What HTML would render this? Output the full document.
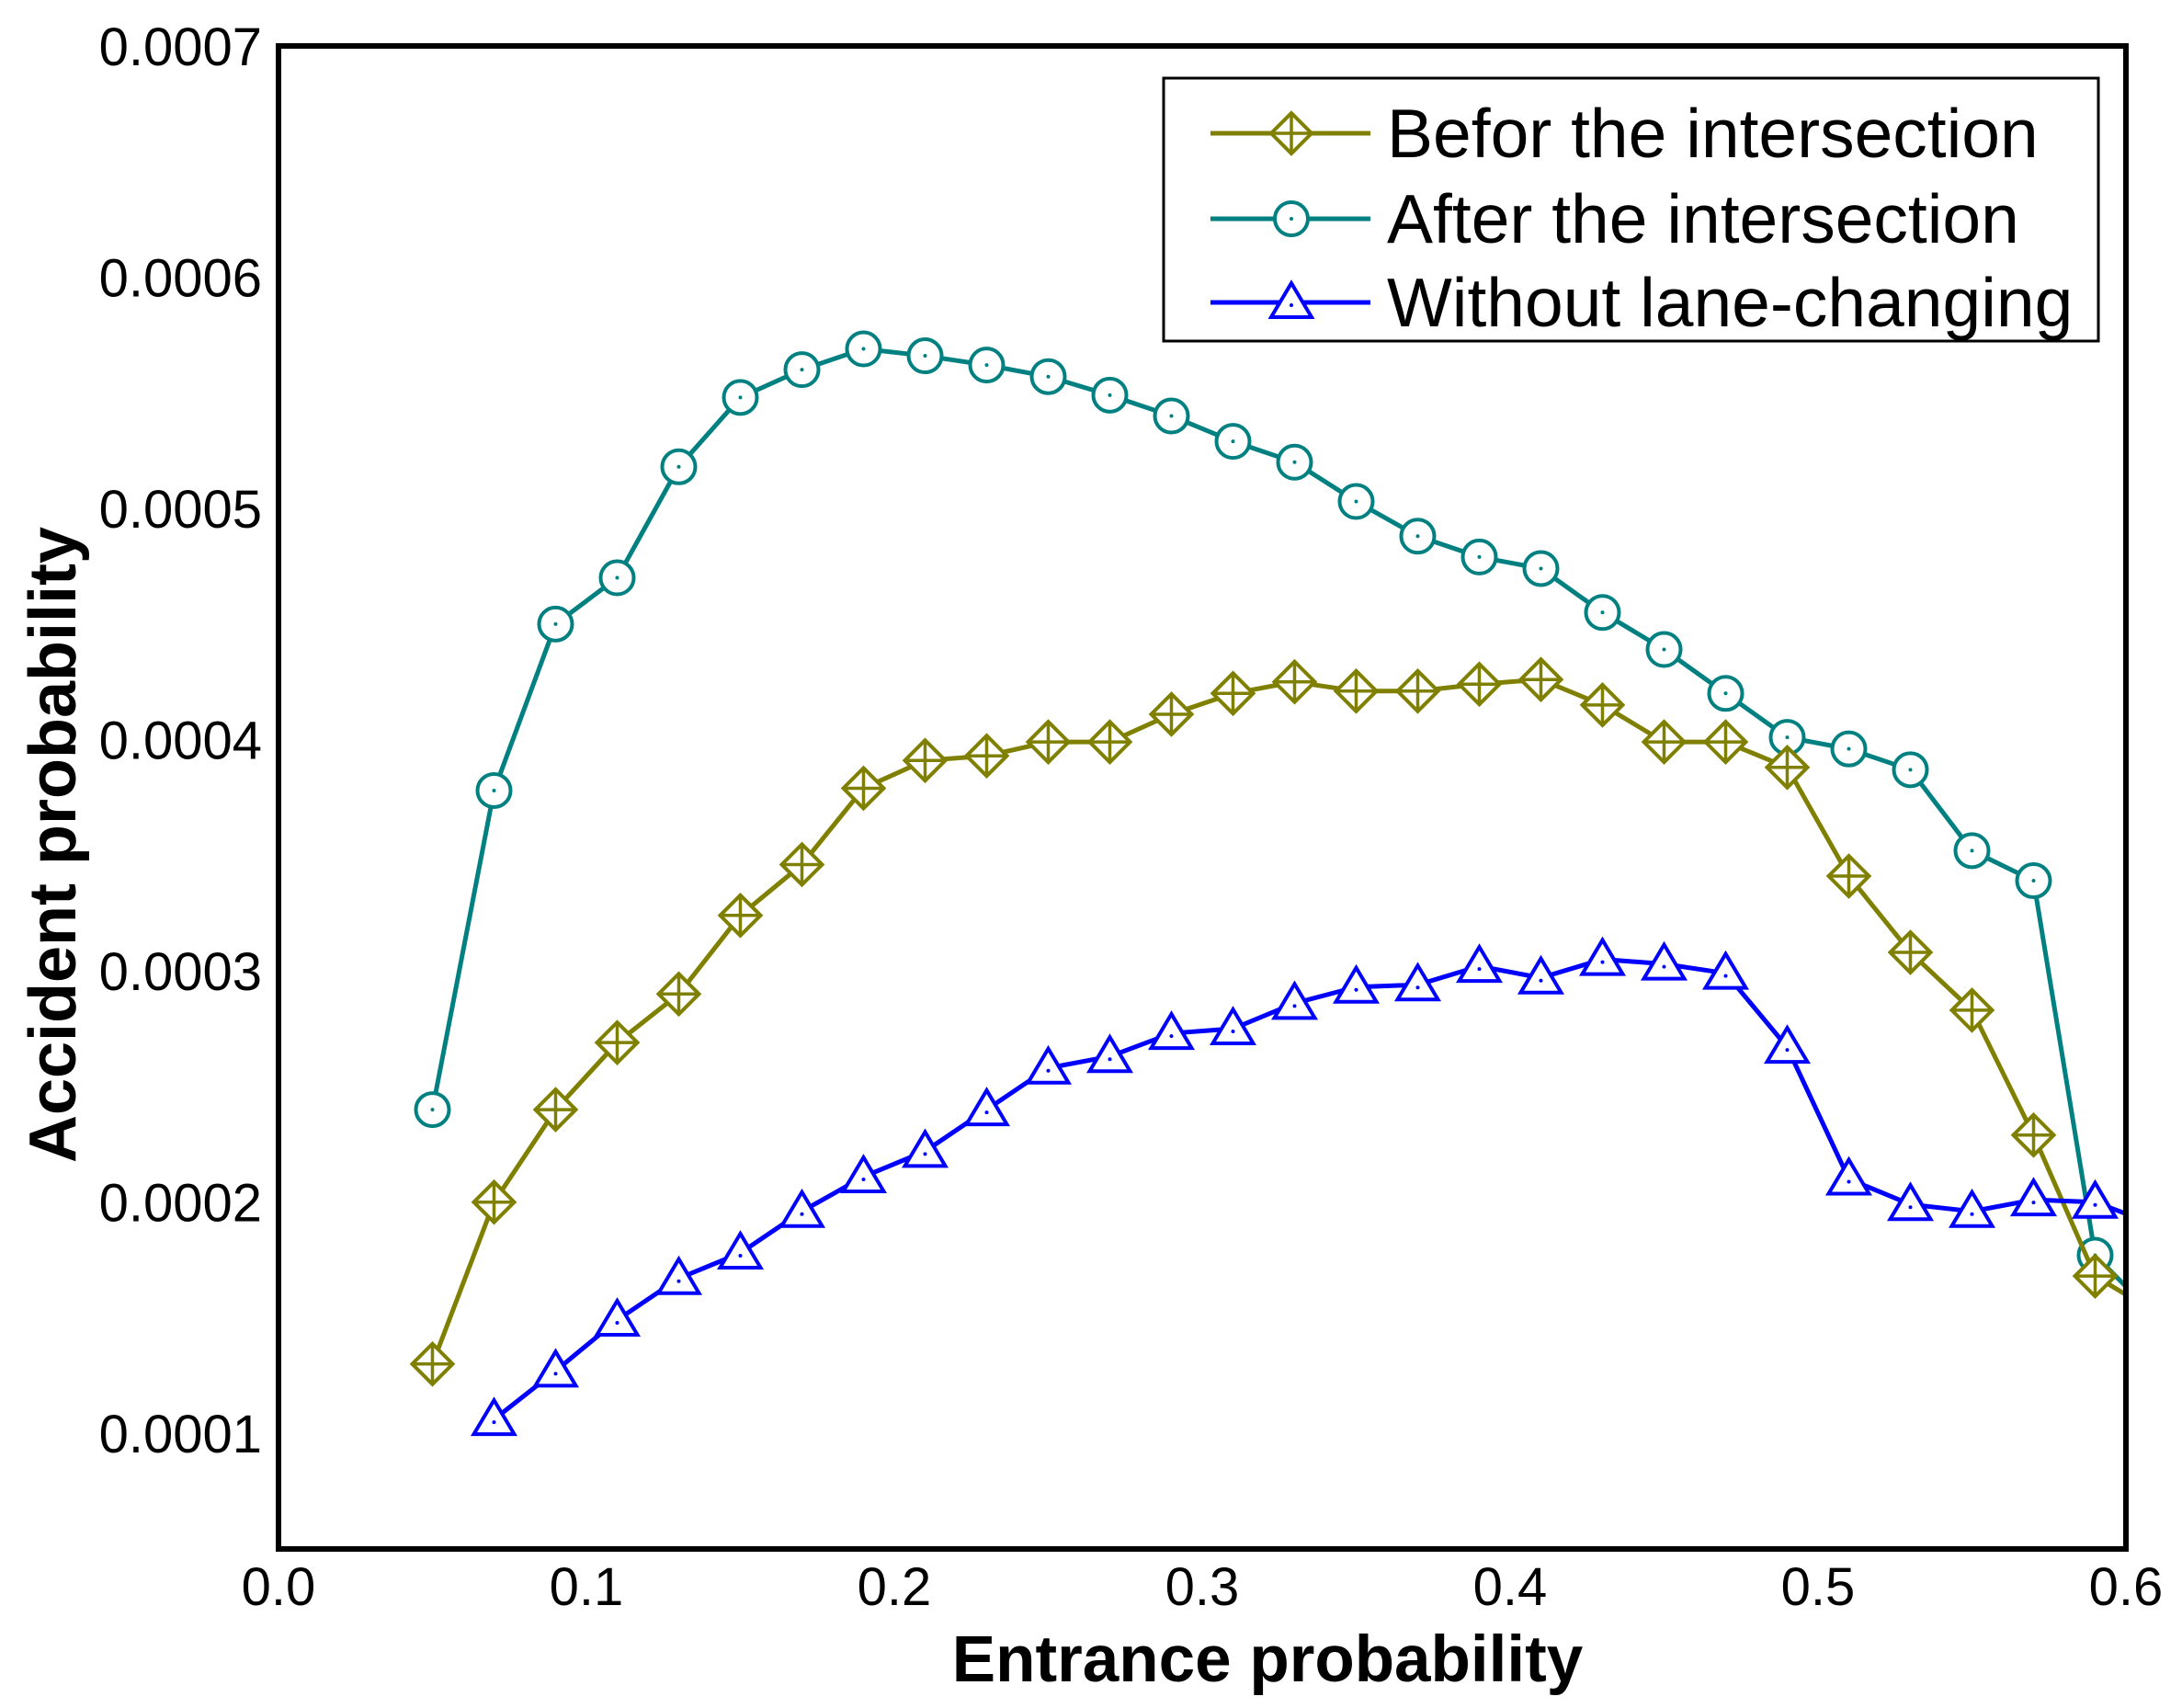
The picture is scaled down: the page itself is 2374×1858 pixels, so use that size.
<!DOCTYPE html>
<html><head><meta charset="utf-8">
<style>html,body{margin:0;padding:0;background:#fff}svg{display:block}</style>
</head><body>
<svg id="chart" width="2374" height="1858" xmlns="http://www.w3.org/2000/svg" font-family="Liberation Sans, Arial, sans-serif"></svg>
<script>
const xVals=[0.05,0.07,0.09,0.11,0.13,0.15,0.17,0.19,0.21,0.23,0.25,0.27,0.29,0.31,0.33,0.35,0.37,0.39,0.41,0.43,0.45,0.47,0.49,0.51,0.53,0.55,0.57,0.59,0.61];
const afterVals=[0.00024,0.000378,0.00045,0.00047,0.000518,0.000548,0.00056,0.000569,0.000566,0.000562,0.000557,0.000549,0.00054,0.000529,0.00052,0.000503,0.000488,0.000479,0.000474,0.000455,0.000439,0.00042,0.000401,0.000396,0.000387,0.000352,0.000339,0.000177,0.00015];
const beforeVals=[0.00013,0.0002,0.00024,0.000269,0.00029,0.000324,0.000346,0.000379,0.000391,0.000393,0.000399,0.000399,0.000411,0.00042,0.000425,0.000421,0.000421,0.000424,0.000426,0.000415,0.000399,0.000399,0.000388,0.000341,0.000308,0.000283,0.000229,0.000168,0.000152];
const withoutX=[0.07,0.09,0.11,0.13,0.15,0.17,0.19,0.21,0.23,0.25,0.27,0.29,0.31,0.33,0.35,0.37,0.39,0.41,0.43,0.45,0.47,0.49,0.51,0.53,0.55,0.57,0.59,0.61];
const withoutVals=[0.000106,0.000127,0.000149,0.000167,0.000178,0.000196,0.000211,0.000222,0.00024,0.000258,0.000263,0.000273,0.000275,0.000286,0.000293,0.000294,0.000302,0.000297,0.000305,0.000303,0.000299,0.000267,0.00021,0.000199,0.000196,0.000201,0.0002,0.00019];
const xTicks=[0,0.1,0.2,0.3,0.4,0.5,0.6];
const xTickLabels=["0.0","0.1","0.2","0.3","0.4","0.5","0.6"];
const yTicks=[0.0001,0.0002,0.0003,0.0004,0.0005,0.0006,0.0007];
const yTickLabels=["0.0001","0.0002","0.0003","0.0004","0.0005","0.0006","0.0007"];

const NS="http://www.w3.org/2000/svg";
const svg=document.getElementById('chart');
const L=303,R=2313,T=50,B=1685;
const xMin=0,xMax=0.6,yMin=0.00005,yMax=0.0007;
const sx=v=>L+(v-xMin)/(xMax-xMin)*(R-L);
const sy=v=>B-(v-yMin)/(yMax-yMin)*(B-T);
function el(tag,attrs,parent){const e=document.createElementNS(NS,tag);for(const k in attrs)e.setAttribute(k,attrs[k]);(parent||svg).appendChild(e);return e;}

const defs=el('defs',{});
const cp=el('clipPath',{id:'clip'},defs);
el('rect',{x:L,y:T,width:R-L,height:B-T},cp);

xTicks.forEach((t,i)=>{
  const tx=el('text',{x:sx(t),y:1746,'font-size':58,'text-anchor':'middle',fill:'#000'});
  tx.textContent=xTickLabels[i];
  
  
});
yTicks.forEach((t,i)=>{
  const tx=el('text',{x:285,y:sy(t)+21,'font-size':58,'text-anchor':'end',fill:'#000'});
  tx.textContent=yTickLabels[i];
  
  
});
const xt=el('text',{x:1379,y:1829,'font-size':71,'font-weight':'bold','text-anchor':'middle'});
xt.textContent='Entrance probability';


const yt=el('text',{x:0,y:0,'font-size':72,'font-weight':'bold','text-anchor':'middle',transform:'translate(82,919) rotate(-90)'});
yt.textContent='Accident probability';



function marker(kind,cx,cy,color,g){
  const s=18;
  if(kind==='circle'){
    el('circle',{cx,cy,r:s,fill:'#fff',stroke:color,'stroke-width':4},g);
    el('circle',{cx,cy,r:2,fill:color},g);
  }else if(kind==='diamond'){
    el('polygon',{points:`${cx},${cy-s-4} ${cx+s+4},${cy} ${cx},${cy+s+4} ${cx-s-4},${cy}`,fill:'#fff',stroke:color,'stroke-width':4},g);
    el('path',{d:`M${cx-s-4},${cy}H${cx+s+4}M${cx},${cy-s-4}V${cy+s+4}`,stroke:color,'stroke-width':3.5},g);
  }else{
    el('polygon',{points:`${cx},${cy-s-3} ${cx+s+4},${cy+s-2} ${cx-s-4},${cy+s-2}`,fill:'#fff',stroke:color,'stroke-width':4},g);
    el('circle',{cx,cy:cy+3,r:2,fill:color},g);
  }
}
function series(xs,ys,color,kind,name){
  const g=el('g',{'clip-path':'url(#clip)'});
  
  
  el('polyline',{points:xs.map((x,i)=>sx(x)+','+sy(ys[i])).join(' '),fill:'none',stroke:color,'stroke-width':5},g);
  xs.forEach((x,i)=>marker(kind,sx(x),sy(ys[i]),color,g));
}
series(xVals,afterVals,'#008080','circle','after-intersection-series');
series(xVals,beforeVals,'#808000','diamond','before-intersection-series');
series(withoutX,withoutVals,'#0000ff','triangle','without-lane-changing-series');

const fr=el('rect',{x:L,y:T,width:R-L,height:B-T,fill:'none',stroke:'#000','stroke-width':6});



const lg=el('g',{});


el('rect',{x:1266,y:85,width:1017,height:286,fill:'#fff',stroke:'#000','stroke-width':3},lg);
const entries=[['Befor the intersection','#808000','diamond',145],['After the intersection','#008080','circle',238],['Without lane-changing','#0000ff','triangle',329]];
entries.forEach(e=>{
  const g=el('g',{},lg);
  
  
  el('line',{x1:1317,x2:1491,y1:e[3],y2:e[3],stroke:e[1],'stroke-width':5},g);
  marker(e[2],1405,e[3],e[1],g);
  const t=el('text',{x:1509,y:e[3]+26,'font-size':75,fill:'#000'},g);
  t.textContent=e[0];
});
</script>
</body></html>
